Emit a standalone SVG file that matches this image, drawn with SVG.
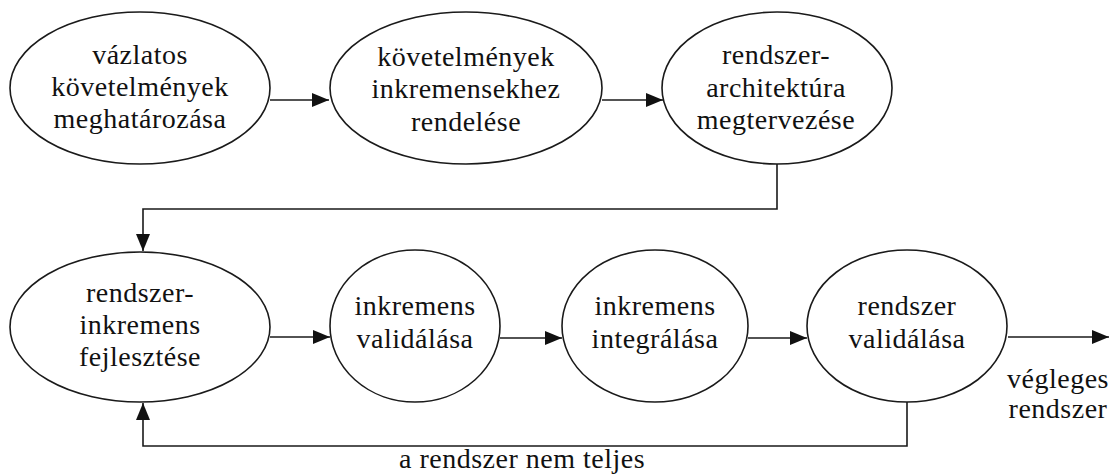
<svg xmlns="http://www.w3.org/2000/svg" width="1112" height="476" viewBox="0 0 1112 476">
<style>
.n ellipse{fill:#fff;stroke:#1a1a1a;stroke-width:1.6}
text{font-family:'Liberation Serif','Times New Roman',serif;font-size:28px;letter-spacing:0.5px;fill:#111;text-anchor:middle}
.c path{fill:none;stroke:#1a1a1a;stroke-width:1.6}
</style>
<defs>
<marker id="ah" viewBox="0 0 17 14" markerUnits="userSpaceOnUse" markerWidth="17" markerHeight="14" refX="17" refY="7" orient="auto">
<path d="M0,0 L17,7 L0,14 z" fill="#111"/>
</marker>
</defs>
<rect width="1112" height="476" fill="#fff"/>
<g class="c" id="connectors">
<path d="M270,100 H329" marker-end="url(#ah)"/>
<path d="M602,100 H663" marker-end="url(#ah)"/>
<path d="M777,164 V209 H143 V251" marker-end="url(#ah)"/>
<path d="M270,337 H330" marker-end="url(#ah)"/>
<path d="M500,338 H562" marker-end="url(#ah)"/>
<path d="M748,338 H807" marker-end="url(#ah)"/>
<path d="M1008,337 H1109" marker-end="url(#ah)"/>
<path d="M907,402 V446 H143 V403" marker-end="url(#ah)"/>
</g>
<g class="n" id="n1">
<ellipse cx="140" cy="88" rx="130" ry="76"/>
<text x="140" y="64">vázlatos</text>
<text x="140" y="96">követelmények</text>
<text x="140" y="128">meghatározása</text>
</g>
<g class="n" id="n2">
<ellipse cx="466" cy="88" rx="136" ry="76"/>
<text x="466" y="66">követelmények</text>
<text x="466" y="98">inkremensekhez</text>
<text x="466" y="131">rendelése</text>
</g>
<g class="n" id="n3">
<ellipse cx="777" cy="88" rx="115" ry="76"/>
<text x="776" y="64">rendszer-</text>
<text x="776" y="97">architektúra</text>
<text x="776" y="129">megtervezése</text>
</g>
<g class="n" id="n4">
<ellipse cx="140" cy="327" rx="130" ry="75"/>
<text x="140" y="302">rendszer-</text>
<text x="140" y="334">inkremens</text>
<text x="140" y="366">fejlesztése</text>
</g>
<g class="n" id="n5">
<ellipse cx="415" cy="326" rx="85" ry="76"/>
<text x="415" y="315">inkremens</text>
<text x="415" y="348">validálása</text>
</g>
<g class="n" id="n6">
<ellipse cx="655" cy="326" rx="93" ry="76"/>
<text x="655" y="315">inkremens</text>
<text x="655" y="348">integrálása</text>
</g>
<g class="n" id="n7">
<ellipse cx="907" cy="326" rx="100" ry="76"/>
<text x="907" y="315">rendszer</text>
<text x="907" y="348">validálása</text>
</g>
<g id="labels">
<text x="1058" y="388">végleges</text>
<text x="1058" y="418">rendszer</text>
<text x="522" y="468">a rendszer nem teljes</text>
</g>
</svg>
